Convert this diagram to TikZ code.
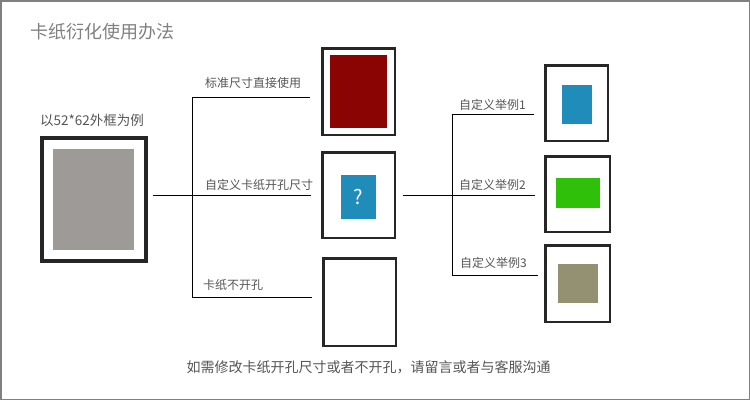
\documentclass[tikz,border=0pt]{standalone}
\usepackage{fontspec}
\setmainfont{Noto Sans CJK SC}
\usepackage{tikz}
\definecolor{cardred}{HTML}{8A0404}
\definecolor{cardblue}{HTML}{1F8CBA}
\definecolor{cardgreen}{HTML}{2FC10A}
\definecolor{cardolive}{HTML}{949172}
\definecolor{cardgray}{HTML}{9E9A98}
\definecolor{txtgray}{HTML}{555555}
\tikzset{
  frm/.style={draw=black!85,line width=2.5pt,inner sep=0pt,outer sep=0pt},
  hole/.style={inner sep=0pt,outer sep=0pt},
  lbl/.style={anchor=west,inner sep=0pt,text=txtgray,font=\fontsize{12}{12}\selectfont},
  link/.style={black,line width=1pt},
}

\begin{document}
\begin{tikzpicture}[x=1pt,y=-1pt]
    \useasboundingbox (0,0) rectangle (750,400);
    \draw[gray,line width=1.5pt] (0.75,0.75) rectangle (749.25,399.25);
    \node[anchor=west,inner sep=0pt,text=gray,font=\fontsize{18}{18}\selectfont] (title) at (30,32) {卡纸衍化使用办法};
    % left: the 52*62 frame
    \node[anchor=west,inner sep=0pt,text=txtgray,font=\fontsize{13.5}{13.5}\selectfont] (ex) at (40,120) {以52*62外框为例};
    \node[frm,line width=4pt,minimum width=104pt,minimum height=123pt] (big) at (94,199.5) {};
    \node[hole,fill=cardgray,minimum width=81pt,minimum height=101pt] (bighole) at (93.5,199.5) {};
    % middle column
    \node[frm,minimum width=72.5pt,minimum height=86.5pt] (std) at (358.5,91.5) {};
    \node[hole,fill=cardred,minimum width=57pt,minimum height=73pt] (stdhole) at (358.5,91.5) {};
    \node[frm,minimum width=72.5pt,minimum height=85.5pt] (cust) at (358.5,195) {};
    \node[hole,fill=cardblue,minimum width=35pt,minimum height=44pt,text=white,font=\fontsize{20}{20}\selectfont] (custhole) at (358.5,197) {?};
    \node[frm,minimum width=72.5pt,minimum height=87.5pt] (none) at (359.5,302) {};
    % right column
    \node[frm,minimum width=62.5pt,minimum height=75.5pt] (exa) at (576.5,103) {};
    \node[hole,fill=cardblue,minimum width=30pt,minimum height=39pt] (exahole) at (577,104.5) {};
    \node[frm,minimum width=64.5pt,minimum height=75.5pt] (exb) at (577.5,194) {};
    \node[hole,fill=cardgreen,minimum width=44pt,minimum height=30pt] (exbhole) at (578,193) {};
    \node[frm,minimum width=64.5pt,minimum height=76.5pt] (exc) at (577.5,283.5) {};
    \node[hole,fill=cardolive,minimum width=40pt,minimum height=39pt] (exchole) at (578,283.5) {};
    % connectors
    \coordinate (lt) at (192,97);
    \coordinate (lb) at (192,297);
    \coordinate (rt) at (452,114);
    \coordinate (rb) at (452,275);
    \draw[link,shorten <=7pt,shorten >=11pt] (big.east |- cust.west) -- (cust.west);
    \draw[link] (lt) -- (lb);
    \draw[link,shorten >=12pt] (lt) -- (std.west |- lt);
    \draw[link,shorten >=11pt] (lb) -- (none.west |- lb);
    \draw[link,shorten <=8pt,shorten >=10pt] (cust.east) -- (exb.west |- cust.east);
    \draw[link] (rt) -- (rb);
    \draw[link,shorten >=11pt] (rt) -- (exa.west |- rt);
    \draw[link,shorten >=7pt] (rb) -- (exc.west |- rb);
    % labels
    \node[lbl] (l1) at (205,83) {标准尺寸直接使用};
    \node[lbl] (l2) at (205,185) {自定义卡纸开孔尺寸};
    \node[lbl] (l3) at (203,285) {卡纸不开孔};
    \node[lbl] (r1) at (459,105) {自定义举例1};
    \node[lbl] (r2) at (459,185) {自定义举例2};
    \node[lbl] (r3) at (460,263) {自定义举例3};
    \node[inner sep=0pt,text=txtgray,font=\fontsize{14}{14}\selectfont] (note) at (368.5,367) {如需修改卡纸开孔尺寸或者不开孔，请留言或者与客服沟通};
\end{tikzpicture}
\end{document}
